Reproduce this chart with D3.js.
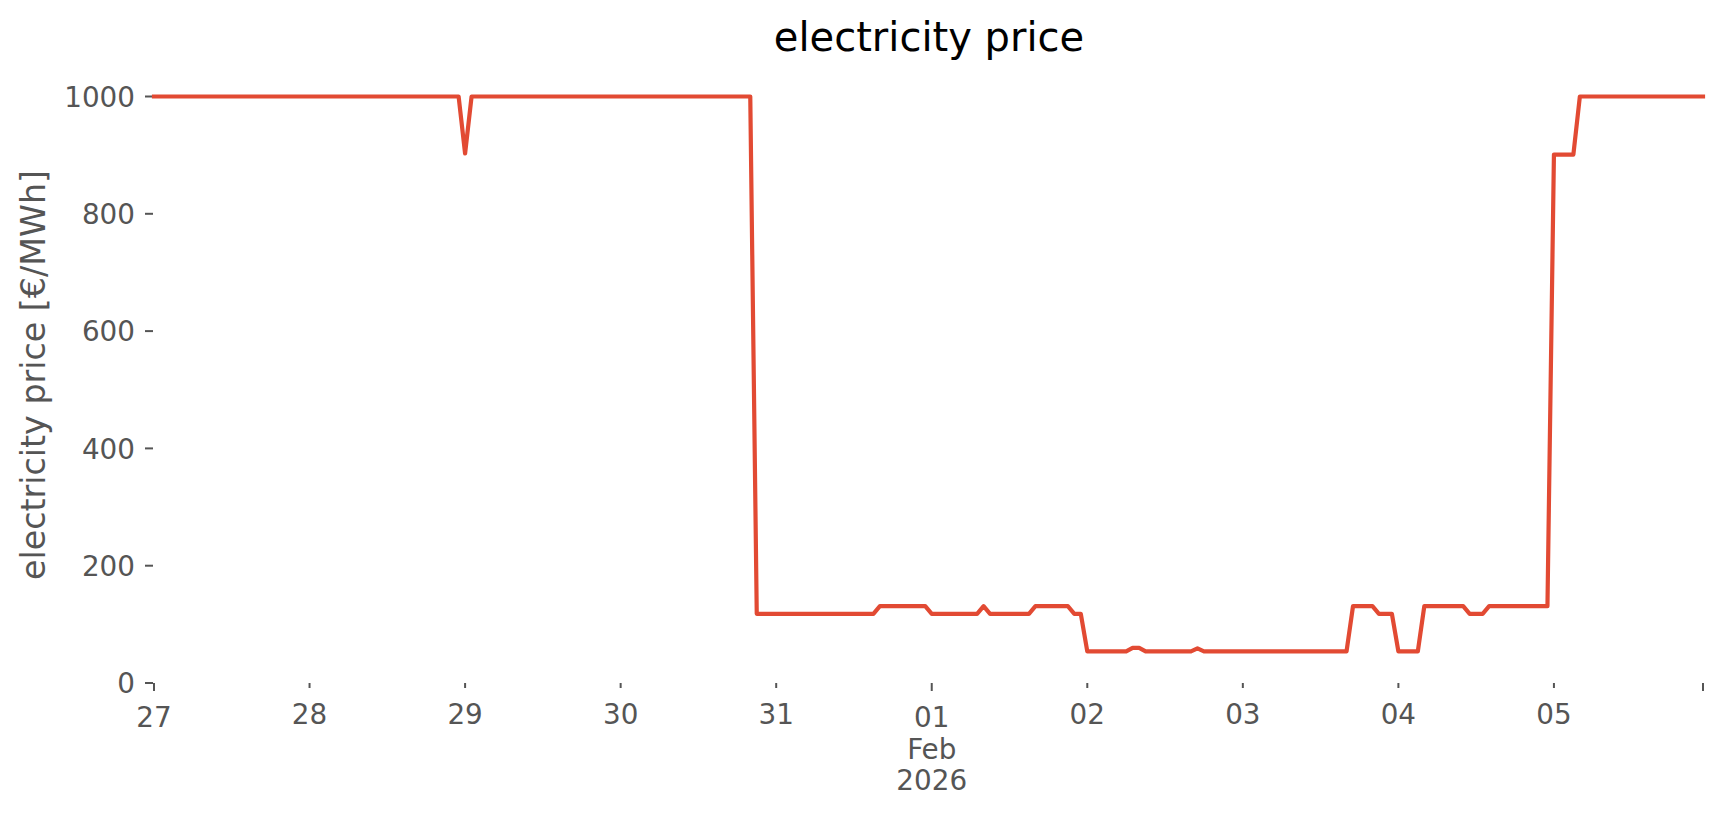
<!DOCTYPE html>
<html>
<head>
<meta charset="utf-8">
<script src="https://cdn.jsdelivr.net/npm/d3@7/dist/d3.min.js"></script>
<style>
  html, body {
    margin: 0;
    padding: 0;
    background: #ffffff;
  }
  svg {
    display: block;
    font-family: "DejaVu Sans", sans-serif;
  }
</style>
</head>
<body>
<div id="chart"></div>
<script>

// hourly prices, one row per day, starting 27 Jan 2026 00:00
const startTime = Date.UTC(2026, 0, 27, 0, 0);

const hourlyPrice = [
  // Jan 27
  1000,1000,1000,1000,1000,1000,1000,1000,1000,1000,1000,1000,
  1000,1000,1000,1000,1000,1000,1000,1000,1000,1000,1000,1000,
  // Jan 28
  1000,1000,1000,1000,1000,1000,1000,1000,1000,1000,1000,1000,
  1000,1000,1000,1000,1000,1000,1000,1000,1000,1000,1000,1000,
  // Jan 29
  903,1000,1000,1000,1000,1000,1000,1000,1000,1000,1000,1000,
  1000,1000,1000,1000,1000,1000,1000,1000,1000,1000,1000,1000,
  // Jan 30
  1000,1000,1000,1000,1000,1000,1000,1000,1000,1000,1000,1000,
  1000,1000,1000,1000,1000,1000,1000,1000,1000,118,118,118,
  // Jan 31
  118,118,118,118,118,118,118,118,118,118,118,118,
  118,118,118,118,131,131,131,131,131,131,131,131,
  // Feb 01
  118,118,118,118,118,118,118,118,131,118,118,118,
  118,118,118,118,131,131,131,131,131,131,118,118,
  // Feb 02
  54,54,54,54,54,54,54,60,60,54,54,54,
  54,54,54,54,54,59,54,54,54,54,54,54,
  // Feb 03
  54,54,54,54,54,54,54,54,54,54,54,54,
  54,54,54,54,54,131,131,131,131,118,118,118,
  // Feb 04
  54,54,54,54,131,131,131,131,131,131,131,118,
  118,118,131,131,131,131,131,131,131,131,131,131,
  // Feb 05
  901,901,901,901,1000,1000,1000,1000,1000,1000,1000,1000,
  1000,1000,1000,1000,1000,1000,1000,1000,1000,1000,1000,1000
];

const yTicks = [0, 200, 400, 600, 800, 1000];

const xTickDays = [
  Date.UTC(2026, 0, 27),
  Date.UTC(2026, 0, 28),
  Date.UTC(2026, 0, 29),
  Date.UTC(2026, 0, 30),
  Date.UTC(2026, 0, 31),
  Date.UTC(2026, 1, 1),
  Date.UTC(2026, 1, 2),
  Date.UTC(2026, 1, 3),
  Date.UTC(2026, 1, 4),
  Date.UTC(2026, 1, 5)
];

const titleText = "electricity price";
const yLabelText = "electricity price [€/MWh]";

const width = 1724;
const height = 815;

const HOUR = 3600 * 1000;

const series = hourlyPrice.map((v, i) => ({
  t: new Date(startTime + i * HOUR),
  v: v
}));

const endTime = series[series.length - 1].t;

const x = d3.scaleUtc()
  .domain([new Date(startTime), endTime])
  .range([154, 1703]);

const y = d3.scaleLinear()
  .domain([0, 1000])
  .range([683, 96.5]);

const axisY = 683;
const tickColor = "#555555";
const labelSize = 27.8;

const svg = d3.select("#chart")
  .append("svg")
  .attr("width", width)
  .attr("height", height);

svg.append("rect")
  .attr("width", width)
  .attr("height", height)
  .attr("fill", "#ffffff");

// title
svg.append("text")
  .attr("x", 929)
  .attr("y", 51)
  .attr("text-anchor", "middle")
  .attr("font-size", 40)
  .attr("fill", "#000000")
  .text(titleText);

// y label
svg.append("text")
  .attr("transform", "translate(45,375) rotate(-90)")
  .attr("text-anchor", "middle")
  .attr("font-size", 33.3)
  .attr("fill", tickColor)
  .text(yLabelText);

// y ticks
const yAxis = svg.append("g");

yTicks.forEach(t => {

  yAxis.append("line")
    .attr("x1", 145)
    .attr("x2", 153)
    .attr("y1", y(t))
    .attr("y2", y(t))
    .attr("stroke", tickColor)
    .attr("stroke-width", 2);

  yAxis.append("text")
    .attr("x", 135)
    .attr("y", y(t) + 10.1)
    .attr("text-anchor", "end")
    .attr("font-size", labelSize)
    .attr("fill", tickColor)
    .text(t);
});

// x ticks
const xAxis = svg.append("g");

const fmtDay = d3.utcFormat("%d");

const isMajor = d =>
  d.getTime() === xTickDays[0] ||
  (d.getUTCDate() === 1);

xTickDays.forEach(ms => {

  const d = new Date(ms);
  const major = isMajor(d);

  xAxis.append("line")
    .attr("x1", x(d))
    .attr("x2", x(d))
    .attr("y1", axisY)
    .attr("y2", axisY + (major ? 8 : 5))
    .attr("stroke", tickColor)
    .attr("stroke-width", 2);

  const label = xAxis.append("text")
    .attr("x", x(d))
    .attr("y", major ? 727 : 723.5)
    .attr("text-anchor", "middle")
    .attr("font-size", labelSize)
    .attr("fill", tickColor);

  label.append("tspan")
    .attr("x", x(d))
    .text(fmtDay(d));

  if (d.getUTCDate() === 1) {
    label.append("tspan")
      .attr("x", x(d))
      .attr("dy", 31.5)
      .text(d3.utcFormat("%b")(d));
    label.append("tspan")
      .attr("x", x(d))
      .attr("dy", 31.5)
      .text(d3.utcFormat("%Y")(d));
  }
});

// last major tick at the end of the range
xAxis.append("line")
  .attr("x1", x(endTime))
  .attr("x2", x(endTime))
  .attr("y1", axisY)
  .attr("y2", axisY + 8)
  .attr("stroke", tickColor)
  .attr("stroke-width", 2);

// price line
const line = d3.line()
  .x(d => x(d.t))
  .y(d => y(d.v));

svg.append("path")
  .datum(series)
  .attr("d", line)
  .attr("fill", "none")
  .attr("stroke", "#E24A33")
  .attr("stroke-width", 4.2)
  .attr("stroke-linejoin", "round")
  .attr("stroke-linecap", "square");

</script>
</body>
</html>
